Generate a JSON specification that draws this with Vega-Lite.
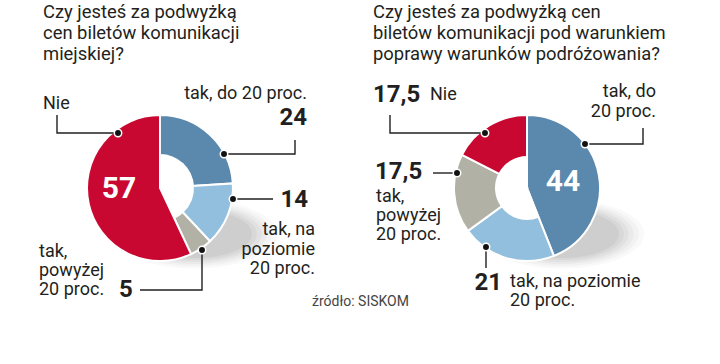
{
  "$schema": "https://vega.github.io/schema/vega-lite/v6.json",
  "width": 720,
  "height": 364,
  "autosize": {"type": "fit", "contains": "padding"},
  "padding": 0,
  "background": "white",
  "config": {"view": {"stroke": null}, "font": "Roboto"},
  "datasets": {
    "slices": [
      {"chart": "A", "category": "tak, do 20 proc.", "value": 24, "order": 1},
      {"chart": "A", "category": "tak, na poziomie 20 proc.", "value": 14, "order": 2},
      {"chart": "A", "category": "tak, powyżej 20 proc.", "value": 5, "order": 3},
      {"chart": "A", "category": "Nie", "value": 57, "order": 4},
      {"chart": "B", "category": "tak, do 20 proc.", "value": 44, "order": 1},
      {"chart": "B", "category": "tak, na poziomie 20 proc.", "value": 21, "order": 2},
      {"chart": "B", "category": "tak, powyżej 20 proc.", "value": 17.5, "order": 3},
      {"chart": "B", "category": "Nie", "value": 17.5, "order": 4}
    ],
    "shadows": [
      {"chart": "A", "x": 195, "y": 234},
      {"chart": "B", "x": 562, "y": 234}
    ],
    "leaders": [
      {"id": "A-Nie", "k": 1, "x": 57, "y": 115},
      {"id": "A-Nie", "k": 2, "x": 57, "y": 133},
      {"id": "A-Nie", "k": 3, "x": 118, "y": 133},
      {"id": "A-do", "k": 1, "x": 295, "y": 140},
      {"id": "A-do", "k": 2, "x": 295, "y": 154},
      {"id": "A-do", "k": 3, "x": 224, "y": 154},
      {"id": "A-na", "k": 1, "x": 273, "y": 199},
      {"id": "A-na", "k": 2, "x": 233, "y": 199},
      {"id": "A-pow", "k": 1, "x": 140, "y": 290},
      {"id": "A-pow", "k": 2, "x": 202, "y": 290},
      {"id": "A-pow", "k": 3, "x": 202, "y": 250},
      {"id": "B-Nie", "k": 1, "x": 390, "y": 115},
      {"id": "B-Nie", "k": 2, "x": 390, "y": 133},
      {"id": "B-Nie", "k": 3, "x": 485, "y": 133},
      {"id": "B-do", "k": 1, "x": 643, "y": 128},
      {"id": "B-do", "k": 2, "x": 643, "y": 144},
      {"id": "B-do", "k": 3, "x": 585, "y": 144},
      {"id": "B-pow", "k": 1, "x": 433, "y": 173},
      {"id": "B-pow", "k": 2, "x": 457, "y": 173},
      {"id": "B-na", "k": 1, "x": 486, "y": 247},
      {"id": "B-na", "k": 2, "x": 486, "y": 268}
    ],
    "dots": [
      {"id": "A-Nie", "x": 118, "y": 133},
      {"id": "A-do", "x": 224, "y": 154},
      {"id": "A-na", "x": 233, "y": 199},
      {"id": "A-pow", "x": 202, "y": 250},
      {"id": "B-Nie", "x": 485, "y": 133},
      {"id": "B-do", "x": 585, "y": 144},
      {"id": "B-pow", "x": 457, "y": 173},
      {"id": "B-na", "x": 486, "y": 247}
    ],
    "labels": [
      {"role": "title", "side": "left", "x": 43, "y": 12, "text": "Czy jesteś za podwyżką\ncen biletów komunikacji\nmiejskiej?"},
      {"role": "title", "side": "left", "x": 373, "y": 12, "text": "Czy jesteś za podwyżką cen\nbiletów komunikacji pod warunkiem\npoprawy warunków podróżowania?"},
      {"role": "label", "side": "left", "x": 43, "y": 104, "text": "Nie"},
      {"role": "label", "side": "right", "x": 307, "y": 94, "text": "tak, do 20 proc."},
      {"role": "label", "side": "right", "x": 315, "y": 230, "text": "tak, na\npoziomie\n20 proc."},
      {"role": "label", "side": "left", "x": 39, "y": 252, "text": "tak,\npowyżej\n20 proc."},
      {"role": "label", "side": "left", "x": 430, "y": 95, "text": "Nie"},
      {"role": "label", "side": "right", "x": 656, "y": 92, "text": "tak, do\n20 proc."},
      {"role": "label", "side": "left", "x": 376, "y": 197, "text": "tak,\npowyżej\n20 proc."},
      {"role": "label", "side": "left", "x": 510, "y": 282, "text": "tak, na poziomie\n20 proc."},
      {"role": "number", "side": "right", "x": 307, "y": 118, "text": "24"},
      {"role": "number", "side": "right", "x": 308, "y": 200, "text": "14"},
      {"role": "number", "side": "left", "x": 119, "y": 290, "text": "5"},
      {"role": "number", "side": "left", "x": 373, "y": 95, "text": "17,5"},
      {"role": "number", "side": "left", "x": 375, "y": 172, "text": "17,5"},
      {"role": "number", "side": "right", "x": 502, "y": 283, "text": "21"},
      {"role": "inside", "side": "center", "x": 119, "y": 189, "text": "57"},
      {"role": "inside", "side": "center", "x": 563, "y": 182, "text": "44"},
      {"role": "source", "side": "left", "x": 312, "y": 302, "text": "źródło: SISKOM"}
    ]
  },
  "layer": [
    {
      "data": {"name": "shadows"},
      "mark": {"type": "point", "filled": true, "color": "#707070", "opacity": 0.04, "size": 27000, "shape": "M-1,0A1,0.42,0,1,1,1,0A1,0.42,0,1,1,-1,0Z", "strokeWidth": 0},
      "encoding": {
        "x": {"field": "x", "type": "quantitative", "scale": {"domain": [0, 720], "nice": false, "zero": false}, "axis": null},
        "y": {"field": "y", "type": "quantitative", "scale": {"domain": [0, 364], "nice": false, "zero": false, "reverse": true}, "axis": null}
      }
    },
    {
      "data": {"name": "shadows"},
      "mark": {"type": "point", "filled": true, "color": "#707070", "opacity": 0.05, "size": 23500, "shape": "M-1,0A1,0.42,0,1,1,1,0A1,0.42,0,1,1,-1,0Z", "strokeWidth": 0},
      "encoding": {"x": {"field": "x", "type": "quantitative"}, "y": {"field": "y", "type": "quantitative"}}
    },
    {
      "data": {"name": "shadows"},
      "mark": {"type": "point", "filled": true, "color": "#707070", "opacity": 0.06, "size": 20500, "shape": "M-1,0A1,0.42,0,1,1,1,0A1,0.42,0,1,1,-1,0Z", "strokeWidth": 0},
      "encoding": {"x": {"field": "x", "type": "quantitative"}, "y": {"field": "y", "type": "quantitative"}}
    },
    {
      "data": {"name": "shadows"},
      "mark": {"type": "point", "filled": true, "color": "#707070", "opacity": 0.07, "size": 17800, "shape": "M-1,0A1,0.42,0,1,1,1,0A1,0.42,0,1,1,-1,0Z", "strokeWidth": 0},
      "encoding": {"x": {"field": "x", "type": "quantitative"}, "y": {"field": "y", "type": "quantitative"}}
    },
    {
      "data": {"name": "shadows"},
      "mark": {"type": "point", "filled": true, "color": "#707070", "opacity": 0.08, "size": 15300, "shape": "M-1,0A1,0.42,0,1,1,1,0A1,0.42,0,1,1,-1,0Z", "strokeWidth": 0},
      "encoding": {"x": {"field": "x", "type": "quantitative"}, "y": {"field": "y", "type": "quantitative"}}
    },
    {
      "data": {"name": "shadows"},
      "mark": {"type": "point", "filled": true, "color": "#707070", "opacity": 0.09, "size": 13000, "shape": "M-1,0A1,0.42,0,1,1,1,0A1,0.42,0,1,1,-1,0Z", "strokeWidth": 0},
      "encoding": {"x": {"field": "x", "type": "quantitative"}, "y": {"field": "y", "type": "quantitative"}}
    },
    {
      "data": {"name": "slices"},
      "transform": [{"filter": "datum.chart == 'A'"}],
      "mark": {"type": "arc", "outerRadius": 73, "innerRadius": 0, "stroke": "white", "strokeWidth": 2},
      "encoding": {
        "x": {"datum": 160, "type": "quantitative"},
        "y": {"datum": 188, "type": "quantitative"},
        "theta": {"field": "value", "type": "quantitative", "stack": true},
        "color": {"field": "category", "type": "nominal", "legend": null,
          "scale": {"domain": ["tak, do 20 proc.", "tak, na poziomie 20 proc.", "tak, powyżej 20 proc.", "Nie"], "range": ["#5b88ad", "#93bfdf", "#b1b1a5", "#c90832"]}},
        "order": {"field": "order", "type": "quantitative"}
      }
    },
    {
      "data": {"name": "slices"},
      "transform": [{"filter": "datum.chart == 'A'"}],
      "mark": {"type": "arc", "outerRadius": 34, "innerRadius": 0, "fill": "white"},
      "encoding": {
        "x": {"datum": 160, "type": "quantitative"},
        "y": {"datum": 188, "type": "quantitative"},
        "theta": {"field": "value", "type": "quantitative", "stack": true},
        "detail": {"field": "category"},
        "opacity": {"condition": {"test": "datum.value > 40", "value": 0}, "value": 1},
        "order": {"field": "order", "type": "quantitative"}
      }
    },
    {
      "data": {"name": "slices"},
      "transform": [{"filter": "datum.chart == 'B'"}],
      "mark": {"type": "arc", "outerRadius": 73, "innerRadius": 0, "stroke": "white", "strokeWidth": 2},
      "encoding": {
        "x": {"datum": 527, "type": "quantitative"},
        "y": {"datum": 188, "type": "quantitative"},
        "theta": {"field": "value", "type": "quantitative", "stack": true},
        "color": {"field": "category", "type": "nominal", "legend": null},
        "order": {"field": "order", "type": "quantitative"}
      }
    },
    {
      "data": {"name": "slices"},
      "transform": [{"filter": "datum.chart == 'B'"}],
      "mark": {"type": "arc", "outerRadius": 32, "innerRadius": 0, "fill": "white"},
      "encoding": {
        "x": {"datum": 527, "type": "quantitative"},
        "y": {"datum": 188, "type": "quantitative"},
        "theta": {"field": "value", "type": "quantitative", "stack": true},
        "detail": {"field": "category"},
        "opacity": {"condition": {"test": "datum.value > 40", "value": 0}, "value": 1},
        "order": {"field": "order", "type": "quantitative"}
      }
    },
    {
      "data": {"name": "leaders"},
      "mark": {"type": "line", "color": "#231f20", "strokeWidth": 1.4},
      "encoding": {
        "x": {"field": "x", "type": "quantitative"},
        "y": {"field": "y", "type": "quantitative"},
        "detail": {"field": "id"},
        "order": {"field": "k", "type": "quantitative"}
      }
    },
    {
      "data": {"name": "dots"},
      "mark": {"type": "point", "filled": true, "fill": "#111", "stroke": "white", "strokeWidth": 1.5, "size": 55, "opacity": 1},
      "encoding": {
        "x": {"field": "x", "type": "quantitative"},
        "y": {"field": "y", "type": "quantitative"}
      }
    },
    {
      "data": {"name": "labels"},
      "transform": [{"filter": "datum.role == 'title'"}],
      "mark": {"type": "text", "align": "left", "baseline": "middle", "lineBreak": "\n", "lineHeight": 21, "fontSize": 18.4, "color": "#231f20", "font": "Roboto"},
      "encoding": {
        "x": {"field": "x", "type": "quantitative"},
        "y": {"field": "y", "type": "quantitative"},
        "text": {"field": "text"}
      }
    },
    {
      "data": {"name": "labels"},
      "transform": [{"filter": "datum.role == 'label' && datum.side == 'left'"}],
      "mark": {"type": "text", "align": "left", "baseline": "middle", "lineBreak": "\n", "lineHeight": 19, "fontSize": 18, "color": "#231f20", "font": "Roboto"},
      "encoding": {
        "x": {"field": "x", "type": "quantitative"},
        "y": {"field": "y", "type": "quantitative"},
        "text": {"field": "text"}
      }
    },
    {
      "data": {"name": "labels"},
      "transform": [{"filter": "datum.role == 'label' && datum.side == 'right'"}],
      "mark": {"type": "text", "align": "right", "baseline": "middle", "lineBreak": "\n", "lineHeight": 19.5, "fontSize": 18, "color": "#231f20", "font": "Roboto"},
      "encoding": {
        "x": {"field": "x", "type": "quantitative"},
        "y": {"field": "y", "type": "quantitative"},
        "text": {"field": "text"}
      }
    },
    {
      "data": {"name": "labels"},
      "transform": [{"filter": "datum.role == 'number' && datum.side == 'left'"}],
      "mark": {"type": "text", "align": "left", "baseline": "middle", "fontSize": 24, "fontWeight": "bold", "color": "#231f20", "font": "Roboto"},
      "encoding": {
        "x": {"field": "x", "type": "quantitative"},
        "y": {"field": "y", "type": "quantitative"},
        "text": {"field": "text"}
      }
    },
    {
      "data": {"name": "labels"},
      "transform": [{"filter": "datum.role == 'number' && datum.side == 'right'"}],
      "mark": {"type": "text", "align": "right", "baseline": "middle", "fontSize": 24, "fontWeight": "bold", "color": "#231f20", "font": "Roboto"},
      "encoding": {
        "x": {"field": "x", "type": "quantitative"},
        "y": {"field": "y", "type": "quantitative"},
        "text": {"field": "text"}
      }
    },
    {
      "data": {"name": "labels"},
      "transform": [{"filter": "datum.role == 'inside'"}],
      "mark": {"type": "text", "align": "center", "baseline": "middle", "fontSize": 30, "fontWeight": "bold", "color": "white", "font": "Roboto"},
      "encoding": {
        "x": {"field": "x", "type": "quantitative"},
        "y": {"field": "y", "type": "quantitative"},
        "text": {"field": "text"}
      }
    },
    {
      "data": {"name": "labels"},
      "transform": [{"filter": "datum.role == 'source'"}],
      "mark": {"type": "text", "align": "left", "baseline": "middle", "fontSize": 14, "color": "#444444", "font": "Roboto"},
      "encoding": {
        "x": {"field": "x", "type": "quantitative"},
        "y": {"field": "y", "type": "quantitative"},
        "text": {"field": "text"}
      }
    }
  ]
}
